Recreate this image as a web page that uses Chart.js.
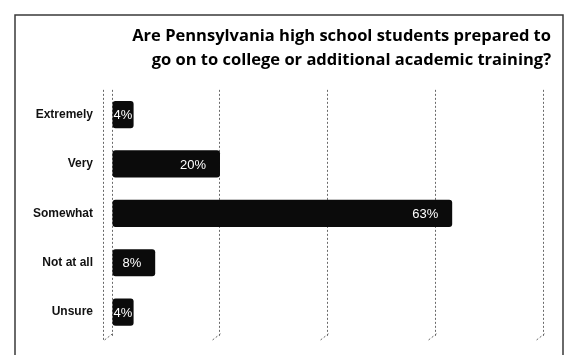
<!DOCTYPE html>
<html>
<head>
<meta charset="utf-8">
<script src="https://cdn.jsdelivr.net/npm/chart.js@4.4.1/dist/chart.umd.min.js"></script>
<style>
  html, body { margin: 0; padding: 0; background: #fff; }
  #wrap { width: 570px; height: 355px; }
</style>
</head>
<body>
<div id="wrap"><canvas id="c" width="570" height="355"></canvas></div>
<script>
// Survey answers and their shares (%)
const categories = ['Extremely', 'Very', 'Somewhat', 'Not at all', 'Unsure'];
const shares = [4, 20, 63, 8, 4];
const gridTicks = [0, 20, 40, 60, 80];
const titleLines = [
  'Are Pennsylvania high school students prepared to',
  'go on to college or additional academic training?'
];

// Outer frame, white page
const framePlugin = {
  id: 'frame',
  beforeDraw(chart) {
    const ctx = chart.ctx;
    ctx.save();
    ctx.fillStyle = '#fff';
    ctx.fillRect(0, 0, chart.width, chart.height);
    ctx.strokeStyle = '#3a3a3a';
    ctx.lineWidth = 1.5;
    ctx.beginPath();
    ctx.moveTo(15, chart.height + 5);
    ctx.lineTo(15, 15);
    ctx.lineTo(563, 15);
    ctx.lineTo(563, chart.height + 5);
    ctx.stroke();
    ctx.restore();
  }
};

// Dashed floor edges that give the plot its shallow depth
const floorPlugin = {
  id: 'floor',
  beforeDatasetsDraw(chart) {
    const ctx = chart.ctx;
    const xs = chart.scales.x;
    const area = chart.chartArea;
    ctx.save();
    ctx.strokeStyle = '#666';
    ctx.lineWidth = 1;
    ctx.setLineDash([2, 2]);
    gridTicks.forEach(v => {
      const x = Math.round(xs.getPixelForValue(v)) + 0.5;
      ctx.beginPath();
      ctx.moveTo(x, area.bottom - 3);
      ctx.lineTo(x - 9, area.bottom + 4);
      ctx.stroke();
    });
    const x0 = Math.round(xs.getPixelForValue(0)) - 8.5;
    ctx.beginPath();
    ctx.moveTo(x0, area.top);
    ctx.lineTo(x0, area.bottom + 4);
    ctx.stroke();
    ctx.restore();
  }
};

// Percentage labels in white inside each bar, near its end
const valueLabelPlugin = {
  id: 'valueLabels',
  afterDatasetsDraw(chart) {
    const ctx = chart.ctx;
    const meta = chart.getDatasetMeta(0);
    ctx.save();
    ctx.fillStyle = '#fff';
    ctx.font = '13px "Liberation Sans", Arial, sans-serif';
    ctx.textBaseline = 'middle';
    ctx.textAlign = 'left';
    meta.data.forEach((bar, i) => {
      const text = shares[i] + '%';
      const w = ctx.measureText(text).width;
      let left = bar.x - 14 - w;
      if (left < bar.base + 1) left = bar.base + 1;
      ctx.fillText(text, left, bar.y + 1);
    });
    ctx.restore();
  }
};

new Chart(document.getElementById('c'), {
  type: 'bar',
  data: {
    labels: categories,
    datasets: [{
      data: shares,
      backgroundColor: '#0b0b0b',
      borderRadius: 3,
      borderSkipped: false,
      barPercentage: 0.55,
      categoryPercentage: 1
    }]
  },
  options: {
    indexAxis: 'y',
    responsive: false,
    animation: false,
    layout: { padding: { left: 0, right: 19, top: 0, bottom: 6 } },
    plugins: {
      legend: { display: false },
      tooltip: { enabled: false },
      title: {
        display: true,
        text: titleLines,
        align: 'end',
        color: '#000',
        font: { family: '"Open Sans", Lato, sans-serif', size: 16.5, weight: 'bold', lineHeight: 1.45 },
        padding: { top: 24, bottom: 18 }
      }
    },
    scales: {
      x: {
        min: 0,
        max: 81.3,
        ticks: { display: false, stepSize: 20, includeBounds: false },
        grid: { color: '#6a6a6a', lineWidth: 1, drawTicks: false },
        border: { display: false, dash: [2, 2] }
      },
      y: {
        afterFit(scale) { scale.width = 112; },
        ticks: {
          color: '#111',
          padding: 11,
          font: { family: '"Liberation Sans", Arial, sans-serif', size: 12, weight: 'bold' }
        },
        grid: { display: false },
        border: { display: false }
      }
    }
  },
  plugins: [framePlugin, floorPlugin, valueLabelPlugin]
});
</script>
</body>
</html>
